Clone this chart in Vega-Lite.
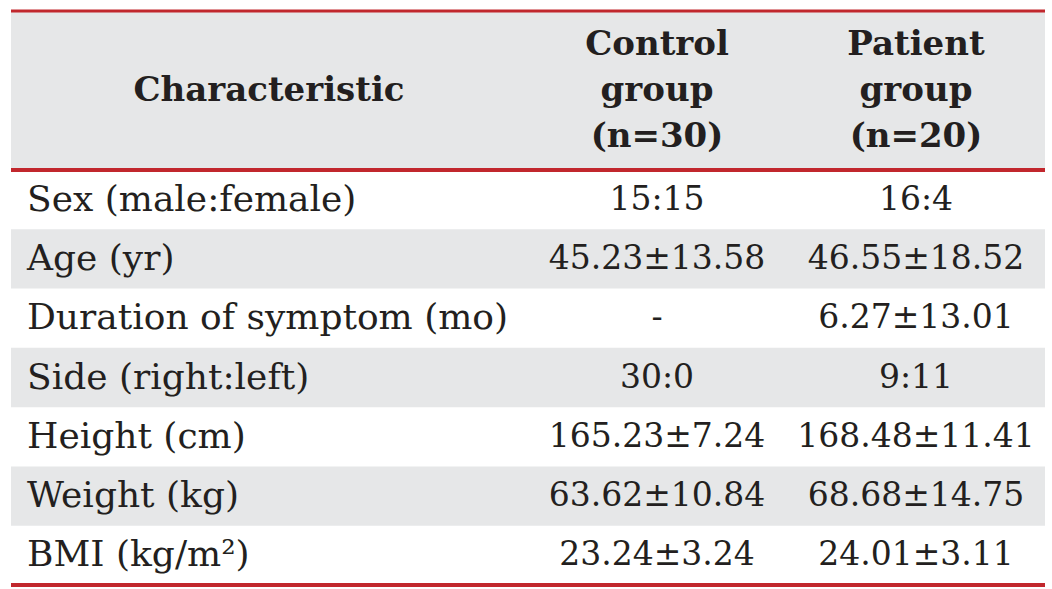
{
  "$schema": "https://vega.github.io/schema/vega-lite/v6.json",
  "background": "white",
  "padding": {"left": 9, "top": 9, "right": 9, "bottom": 6},
  "spacing": 0,
  "bounds": "flush",
  "columns": 3,
  "config": {
    "view": {"stroke": null},
    "concat": {"spacing": 0},
    "text": {"font": "DejaVu Serif", "color": "#231f20"}
  },
  "datasets": {
    "header": [
      {"Characteristic": "Characteristic", "Control": "Control group (n=30)", "Patient": "Patient group (n=20)"}
    ],
    "rows": [
      {"Characteristic": "Sex (male:female)", "Control": "15:15", "Patient": "16:4"},
      {"Characteristic": "Age (yr)", "Control": "45.23±13.58", "Patient": "46.55±18.52"},
      {"Characteristic": "Duration of symptom (mo)", "Control": "-", "Patient": "6.27±13.01"},
      {"Characteristic": "Side (right:left)", "Control": "30:0", "Patient": "9:11"},
      {"Characteristic": "Height (cm)", "Control": "165.23±7.24", "Patient": "168.48±11.41"},
      {"Characteristic": "Weight (kg)", "Control": "63.62±10.84", "Patient": "68.68±14.75"},
      {"Characteristic": "BMI (kg/m²)", "Control": "23.24±3.24", "Patient": "24.01±3.11"}
    ]
  },
  "concat": [
    {
      "width": 516, "height": 159,
      "data": {"name": "header"},
      "layer": [
        {"mark": {"type": "rect", "color": "#e6e7e8"}, "encoding": {}},
        {"mark": {"type": "rule", "color": "#c1272d", "strokeWidth": 3}, "encoding": {"y": {"value": 0}}},
        {"mark": {"type": "text", "fontWeight": "bold", "fontSize": 34, "baseline": "middle", "align": "center"},
         "encoding": {"text": {"field": "Characteristic"}}}
      ]
    },
    {
      "width": 260, "height": 159,
      "data": {"name": "header"},
      "layer": [
        {"mark": {"type": "rect", "color": "#e6e7e8"}, "encoding": {}},
        {"mark": {"type": "rule", "color": "#c1272d", "strokeWidth": 3}, "encoding": {"y": {"value": 0}}},
        {"mark": {"type": "text", "fontWeight": "bold", "fontSize": 34, "lineBreak": " ", "lineHeight": 46, "baseline": "middle", "align": "center", "dy": -46},
         "encoding": {"text": {"field": "Control"}}}
      ]
    },
    {
      "width": 258, "height": 159,
      "data": {"name": "header"},
      "layer": [
        {"mark": {"type": "rect", "color": "#e6e7e8"}, "encoding": {}},
        {"mark": {"type": "rule", "color": "#c1272d", "strokeWidth": 3}, "encoding": {"y": {"value": 0}}},
        {"mark": {"type": "text", "fontWeight": "bold", "fontSize": 34, "lineBreak": " ", "lineHeight": 46, "baseline": "middle", "align": "center", "dy": -46},
         "encoding": {"text": {"field": "Patient"}}}
      ]
    },
    {
      "width": 516, "height": 415,
      "data": {"name": "rows"},
      "encoding": {
        "y": {"field": "Characteristic", "type": "nominal", "sort": null, "axis": null,
              "scale": {"domain": ["Sex (male:female)", "Age (yr)", "Duration of symptom (mo)", "Side (right:left)", "Height (cm)", "Weight (kg)", "BMI (kg/m²)"], "paddingInner": 0, "paddingOuter": 0}}
      },
      "layer": [
        {"transform": [{"filter": {"field": "Characteristic", "oneOf": ["Age (yr)", "Side (right:left)", "Weight (kg)"]}}],
         "mark": {"type": "rect", "color": "#e6e7e8"}},
        {"mark": {"type": "text", "fontSize": 36, "baseline": "middle", "align": "left", "dx": 16},
         "encoding": {"x": {"value": 0}, "text": {"field": "Characteristic"}}},
        {"mark": {"type": "rule", "color": "#c1272d", "strokeWidth": 3}, "encoding": {"y": {"value": 0}}},
        {"mark": {"type": "rule", "color": "#c1272d", "strokeWidth": 3}, "encoding": {"y": {"value": 415}}}
      ]
    },
    {
      "width": 260, "height": 415,
      "data": {"name": "rows"},
      "encoding": {
        "y": {"field": "Characteristic", "type": "nominal", "sort": null, "axis": null,
              "scale": {"domain": ["Sex (male:female)", "Age (yr)", "Duration of symptom (mo)", "Side (right:left)", "Height (cm)", "Weight (kg)", "BMI (kg/m²)"], "paddingInner": 0, "paddingOuter": 0}}
      },
      "layer": [
        {"transform": [{"filter": {"field": "Characteristic", "oneOf": ["Age (yr)", "Side (right:left)", "Weight (kg)"]}}],
         "mark": {"type": "rect", "color": "#e6e7e8"}},
        {"mark": {"type": "text", "fontSize": 33, "baseline": "middle", "align": "center"},
         "encoding": {"text": {"field": "Control"}}},
        {"mark": {"type": "rule", "color": "#c1272d", "strokeWidth": 3}, "encoding": {"y": {"value": 0}}},
        {"mark": {"type": "rule", "color": "#c1272d", "strokeWidth": 3}, "encoding": {"y": {"value": 415}}}
      ]
    },
    {
      "width": 258, "height": 415,
      "data": {"name": "rows"},
      "encoding": {
        "y": {"field": "Characteristic", "type": "nominal", "sort": null, "axis": null,
              "scale": {"domain": ["Sex (male:female)", "Age (yr)", "Duration of symptom (mo)", "Side (right:left)", "Height (cm)", "Weight (kg)", "BMI (kg/m²)"], "paddingInner": 0, "paddingOuter": 0}}
      },
      "layer": [
        {"transform": [{"filter": {"field": "Characteristic", "oneOf": ["Age (yr)", "Side (right:left)", "Weight (kg)"]}}],
         "mark": {"type": "rect", "color": "#e6e7e8"}},
        {"mark": {"type": "text", "fontSize": 33, "baseline": "middle", "align": "center"},
         "encoding": {"text": {"field": "Patient"}}},
        {"mark": {"type": "rule", "color": "#c1272d", "strokeWidth": 3}, "encoding": {"y": {"value": 0}}},
        {"mark": {"type": "rule", "color": "#c1272d", "strokeWidth": 3}, "encoding": {"y": {"value": 415}}}
      ]
    }
  ]
}
